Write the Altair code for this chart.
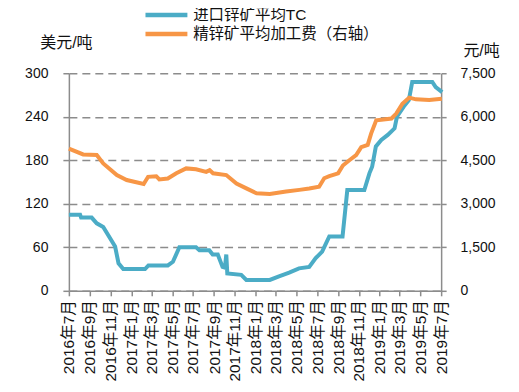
import altair as alt
import pandas as pd

series_names = ["进口锌矿平均TC", "精锌矿平均加工费（右轴）"]
series_colors = ["#4BACC6", "#F79646"]

tc_dates = [
    "2016-07-01", "2016-08-03", "2016-08-06", "2016-09-06", "2016-09-21", "2016-10-10",
    "2016-11-14", "2016-11-24", "2016-12-08", "2017-02-10", "2017-02-20", "2017-04-18",
    "2017-05-03", "2017-05-22", "2017-07-10", "2017-07-20", "2017-08-18", "2017-08-28",
    "2017-09-12", "2017-09-26", "2017-10-03", "2017-10-07", "2017-10-10", "2017-11-20",
    "2017-12-05", "2018-02-12", "2018-03-11", "2018-04-10", "2018-05-09", "2018-06-08",
    "2018-06-27", "2018-07-16", "2018-08-06", "2018-09-14", "2018-09-28", "2018-11-17",
    "2018-12-02", "2018-12-10", "2018-12-21", "2019-01-06", "2019-01-25", "2019-02-14",
    "2019-02-21", "2019-03-13", "2019-03-28", "2019-04-07", "2019-06-05", "2019-06-15",
    "2019-07-04",
]
tc_values = [
    105, 105, 101, 101, 93, 88,
    61, 38, 30, 30, 35, 35,
    40, 60, 60, 56, 56, 50,
    50, 33, 32, 50, 24, 22,
    15, 15, 20, 25, 31, 33,
    45, 54, 75, 75, 139, 139,
    162, 171, 199, 208, 215, 224,
    240, 254, 263, 288, 288, 281,
    274,
]

fee_dates = [
    "2016-07-01", "2016-08-12", "2016-09-21", "2016-10-10", "2016-11-19", "2016-12-18",
    "2017-02-06", "2017-02-19", "2017-03-15", "2017-03-24", "2017-04-18", "2017-05-13",
    "2017-06-11", "2017-07-10", "2017-08-09", "2017-08-19", "2017-08-29", "2017-10-07",
    "2017-11-06", "2017-12-05", "2018-01-04", "2018-02-12", "2018-04-01", "2018-05-10",
    "2018-06-08", "2018-07-07", "2018-07-22", "2018-08-06", "2018-09-01", "2018-09-15",
    "2018-10-04", "2018-10-24", "2018-11-08", "2018-11-27", "2018-12-07", "2018-12-22",
    "2019-01-06", "2019-02-05", "2019-02-19", "2019-03-09", "2019-03-29", "2019-04-18",
    "2019-05-27", "2019-07-03",
]
fee_values = [
    4900, 4700, 4680, 4390, 3990, 3820,
    3680, 3930, 3950, 3840, 3870, 4050,
    4220, 4190, 4100, 4160, 4050, 3990,
    3700, 3530, 3360, 3340, 3420, 3480,
    3530, 3590, 3880, 3950, 4050, 4320,
    4500, 4680, 4950, 5030, 5420, 5880,
    5900, 5940, 6110, 6450, 6660, 6600,
    6580, 6620,
]

x_tick_months = [
    "2016-07", "2016-09", "2016-11", "2017-01", "2017-03", "2017-05", "2017-07",
    "2017-09", "2017-11", "2018-01", "2018-03", "2018-05", "2018-07", "2018-09",
    "2018-11", "2019-01", "2019-03", "2019-05", "2019-07",
]
left_ticks = [0, 60, 120, 180, 240, 300]
right_ticks = [0, 1500, 3000, 4500, 6000, 7500]

FONT = "Liberation Sans, Noto Sans CJK SC"
AXIS_GRAY = "#8c8c8c"


def dt(s):
    return alt.DateTime(year=int(s[:4]), month=int(s[5:7]), date=1)


tc_df = pd.DataFrame({"date": pd.to_datetime(tc_dates), "value": tc_values, "series": series_names[0]})
fee_df = pd.DataFrame({"date": pd.to_datetime(fee_dates), "value": fee_values, "series": series_names[1]})

x_enc = alt.X(
    "date:T",
    scale=alt.Scale(domain=[dt(x_tick_months[0]), dt(x_tick_months[-1])]),
    axis=alt.Axis(
        values=[dt(m) for m in x_tick_months],
        format="%Y年%-m月",
        labelAngle=-90,
        labelFontSize=15.5,
        labelPadding=4,
        tickSize=5,
        grid=False,
        title=None,
    ),
)

color_enc = alt.Color(
    "series:N",
    scale=alt.Scale(domain=series_names, range=series_colors),
    legend=alt.Legend(
        title=None,
        orient="none",
        legendX=90,
        legendY=-66,
        direction="vertical",
        symbolType="M-4.2,0H4.2",
        symbolSize=100,
        symbolStrokeWidth=4.5,
        labelFontSize=15.5,
        labelFont=FONT,
        labelColor="#111",
        labelLimit=0,
        rowPadding=0,
        padding=0,
        labelOffset=19,
    ),
)

tc_line = alt.Chart(tc_df).mark_line(strokeWidth=4).encode(
    x=x_enc,
    y=alt.Y(
        "value:Q",
        scale=alt.Scale(domain=[0, 300], nice=False, zero=True),
        axis=alt.Axis(
            values=left_ticks,
            orient="left",
            grid=True,
            gridDash=[8, 5],
            gridColor=AXIS_GRAY,
            gridWidth=1.5,
            tickSize=6,
            labelFontSize=14,
            labelPadding=15,
            title="美元/吨",
            titleAngle=0,
            titleX=-3,
            titleY=-31,
            titleAlign="center",
            titleBaseline="middle",
            titleFontSize=16,
            titleFontWeight="normal",
        ),
    ),
    color=color_enc,
)

fee_line = alt.Chart(fee_df).mark_line(strokeWidth=4).encode(
    x=x_enc,
    y=alt.Y(
        "value:Q",
        scale=alt.Scale(domain=[0, 7500], nice=False, zero=True),
        axis=alt.Axis(
            values=right_ticks,
            orient="right",
            grid=False,
            labelExpr="format(datum.value, ',')",
            tickSize=5,
            labelFontSize=14,
            labelPadding=14,
            title="元/吨",
            titleAngle=0,
            titleX=40,
            titleY=-23,
            titleAlign="center",
            titleBaseline="middle",
            titleFontSize=16,
            titleFontWeight="normal",
        ),
    ),
    color=color_enc,
)

chart = (
    alt.layer(tc_line, fee_line)
    .resolve_scale(y="independent")
    .properties(
        width=373,
        height=218,
        autosize=alt.AutoSizeParams(type="none"),
        padding={"left": 61, "top": 65, "right": 70, "bottom": 90},
        background="white",
    )
    .configure_view(stroke=None)
    .configure_axis(
        domainColor=AXIS_GRAY,
        domainWidth=1.5,
        tickColor=AXIS_GRAY,
        tickWidth=1.5,
        labelColor="#111",
        titleColor="#111",
        labelFont=FONT,
        titleFont=FONT,
    )
)

chart.save("out.html", embed_options={"renderer": "svg", "actions": False})
